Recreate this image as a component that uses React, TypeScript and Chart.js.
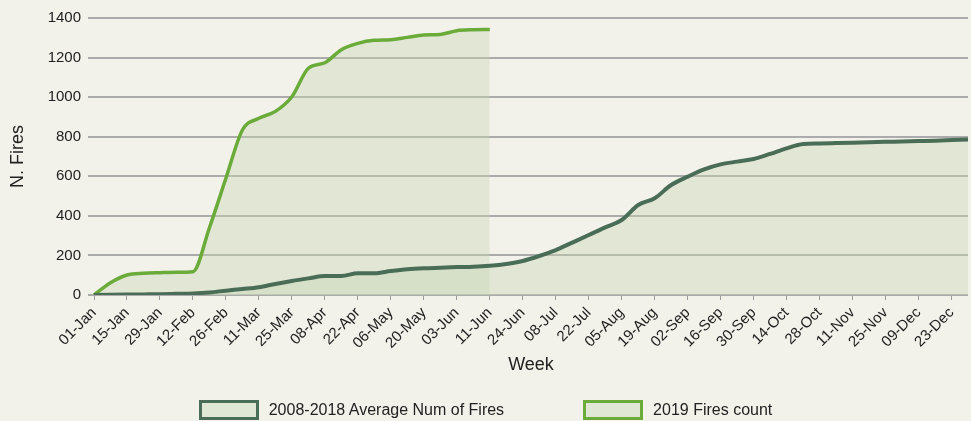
import React, { useEffect, useRef } from "react";
import { Chart, registerables } from "chart.js";

Chart.register(...registerables);

const weeks = [
  "01-Jan", "08-Jan", "15-Jan", "22-Jan", "29-Jan", "05-Feb", "12-Feb", "19-Feb", "26-Feb", "04-Mar",
  "11-Mar", "18-Mar", "25-Mar", "01-Apr", "08-Apr", "15-Apr", "22-Apr", "29-Apr", "06-May", "13-May",
  "20-May", "27-May", "03-Jun", "07-Jun", "11-Jun", "17-Jun", "24-Jun", "01-Jul", "08-Jul", "15-Jul",
  "22-Jul", "29-Jul", "05-Aug", "12-Aug", "19-Aug", "26-Aug", "02-Sep", "09-Sep", "16-Sep", "23-Sep",
  "30-Sep", "07-Oct", "14-Oct", "21-Oct", "28-Oct", "04-Nov", "11-Nov", "18-Nov", "25-Nov", "02-Dec",
  "09-Dec", "16-Dec", "23-Dec", "30-Dec",
];

const avgFires = [
  0, 1, 2, 3, 4, 6, 8, 13, 22, 30,
  39, 56, 71, 84, 96, 96, 110, 110, 121, 130,
  135, 138, 141, 143, 148, 157, 172, 197, 227, 265,
  303, 342, 379, 455, 489, 556, 598, 635, 660, 674,
  687, 713, 741, 763, 766, 768, 770, 772, 774, 776,
  778, 780, 783, 786,
];

const fires2019 = [
  0, 62, 101, 110, 113, 115, 118, 340, 590, 834,
  893, 928, 1002, 1146, 1174, 1240, 1272, 1287, 1290, 1302,
  1314, 1317, 1336, 1341, 1342,
];

const yTicks = [0, 200, 400, 600, 800, 1000, 1200, 1400];

const seriesNames = ["2008-2018 Average Num of Fires", "2019 Fires count"];

const DARK = "#4a6d58";
const BRIGHT = "#6aab3a";
const FILL = "rgba(197,215,179,0.4)";
const LEGEND_FILL = "#e0e7d4";
const GRID = "#ababab";
const TEXT = "#222222";
const BG = "#f3f2ea";
const FONT = "'Liberation Sans', Arial, Helvetica, sans-serif";

export default function App() {
  const ref = useRef<HTMLCanvasElement | null>(null);

  useEffect(() => {
    if (!ref.current) return;
    Chart.defaults.font.family = FONT;
    const chart = new Chart(ref.current, {
      type: "line",
      data: {
        labels: weeks,
        datasets: [
          {
            label: seriesNames[0],
            data: avgFires,
            borderColor: DARK,
            backgroundColor: FILL,
            borderWidth: 4,
            fill: "origin",
            pointRadius: 0,
            cubicInterpolationMode: "monotone",
          },
          {
            label: seriesNames[1],
            data: fires2019,
            borderColor: BRIGHT,
            backgroundColor: FILL,
            borderWidth: 3.5,
            fill: "origin",
            pointRadius: 0,
            cubicInterpolationMode: "monotone",
          },
        ],
      },
      options: {
        animation: false,
        responsive: false,
        maintainAspectRatio: false,
        layout: { padding: { left: 0, right: 3, top: 18, bottom: 45 } },
        plugins: {
          legend: { display: false },
          tooltip: { enabled: false },
        },
        scales: {
          x: {
            grid: {
              drawOnChartArea: false,
              tickLength: 5,
              lineWidth: 1,
              tickColor: (ctx: any) => (ctx.index % 2 === 0 ? "#999999" : "rgba(0,0,0,0)"),
            },
            border: { display: false },
            ticks: {
              autoSkip: false,
              maxRotation: 45,
              minRotation: 45,
              padding: 4,
              color: TEXT,
              font: { size: 15 },
              callback: (_v: any, i: number) => (i % 2 === 0 ? weeks[i] : ""),
            },
            title: {
              display: true,
              text: "Week",
              color: TEXT,
              font: { size: 18 },
              padding: 0,
            },
            afterFit: (s: any) => {
              s.height = 81;
              s.paddingRight = 0;
              s.paddingLeft = 0;
            },
          },
          y: {
            min: yTicks[0],
            max: yTicks[yTicks.length - 1],
            afterBuildTicks: (s: any) => {
              s.ticks = yTicks.map((v) => ({ value: v }));
            },
            ticks: {
              color: TEXT,
              font: { size: 15 },
              padding: 7,
              callback: (v: any) => String(v),
            },
            grid: { color: GRID, lineWidth: 2, tickLength: 6 },
            border: { display: false },
            title: {
              display: true,
              text: "N. Fires",
              color: TEXT,
              font: { size: 18 },
              padding: { top: 7, bottom: 0 },
            },
            afterFit: (s: any) => {
              s.width = 94;
            },
          },
        },
      },
    });
    return () => chart.destroy();
  }, []);

  const legendItems = [
    { name: seriesNames[0], color: DARK },
    { name: seriesNames[1], color: BRIGHT },
  ];

  return (
    <div
      style={{
        position: "fixed",
        left: 0,
        top: 0,
        width: 971,
        height: 421,
        background: BG,
        overflow: "hidden",
      }}
    >
      <canvas ref={ref} width={971} height={421} style={{ width: 971, height: 421, display: "block" }} />
      <div
        style={{
          position: "absolute",
          left: 0,
          top: 400,
          width: 971,
          height: 20,
          display: "flex",
          justifyContent: "center",
          alignItems: "center",
          fontFamily: FONT,
          fontSize: 16,
          color: TEXT,
        }}
      >
        {legendItems.map((it, i) => (
          <div key={it.name} style={{ display: "flex", alignItems: "center", marginLeft: i === 0 ? 0 : 79 }}>
            <span
              style={{
                display: "inline-block",
                width: 60,
                height: 20,
                boxSizing: "border-box",
                border: `3px solid ${it.color}`,
                background: LEGEND_FILL,
                marginRight: 10,
              }}
            />
            <span style={{ whiteSpace: "nowrap" }}>{it.name}</span>
          </div>
        ))}
      </div>
    </div>
  );
}
